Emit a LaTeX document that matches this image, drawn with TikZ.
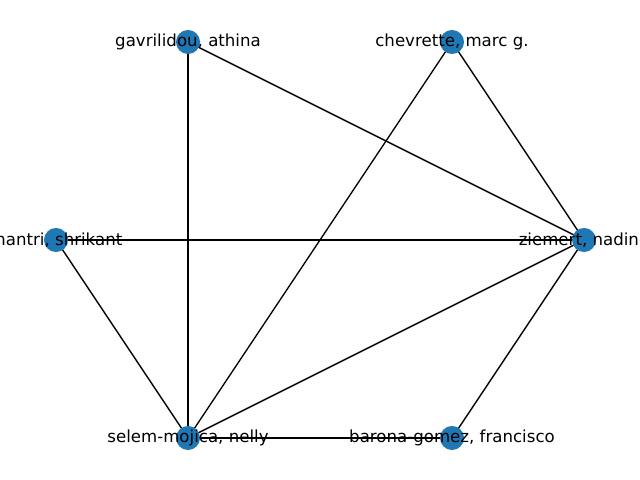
\documentclass[tikz,border=0pt]{standalone}
\usepackage{fontspec}
\setmainfont{DejaVu Sans}
\definecolor{nodeblue}{HTML}{1F77B4}
\begin{document}
\begin{tikzpicture}[x=0.01in,y=-0.01in,
  vert/.style={circle,fill=nodeblue,minimum size=0.24in,inner sep=0pt},
  lbl/.style={font=\fontsize{12}{14}\selectfont,inner sep=0pt,anchor=center},
  edge/.style={draw=black,line width=1pt}]
\useasboundingbox (0,0) rectangle (640,480);
\clip (0,0) rectangle (640,480);
\coordinate (g) at (188,42);
\coordinate (c) at (452,42);
\coordinate (m) at (56,240);
\coordinate (z) at (584,240);
\coordinate (s) at (188,438);
\coordinate (b) at (452,438);
\foreach \u/\v in {g/z,g/s,c/z,c/s,m/z,m/s,z/s,z/b,s/b}
  \draw[edge] (\u) -- (\v);
\node[vert] (ng) at (g) {};
\node[vert] (nc) at (c) {};
\node[vert] (nm) at (m) {};
\node[vert] (nz) at (z) {};
\node[vert] (ns) at (s) {};
\node[vert] (nb) at (b) {};
\node[lbl] (tg) at (g) {gavrilidou, athina};
\node[lbl] (tc) at (c) {chevrette, marc g.};
\node[lbl] (tm) at (m) {mantri, shrikant};
\node[lbl] (tz) at (z) {ziemert, nadine};
\node[lbl] (ts) at (s) {selem-mojica, nelly};
\node[lbl] (tb) at (b) {barona-gomez, francisco};
\end{tikzpicture}
\end{document}
